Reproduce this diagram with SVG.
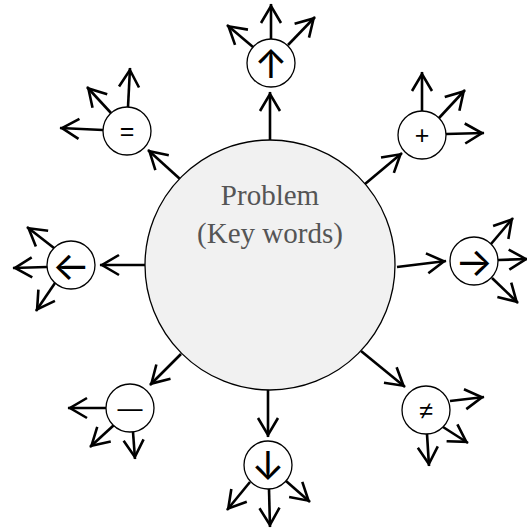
<svg xmlns="http://www.w3.org/2000/svg" width="527" height="529" viewBox="0 0 527 529">
<style>
.c{fill:#fff;stroke:#000;stroke-width:1.3}
.m{fill:#f1f1f1;stroke:#000;stroke-width:1.3}
.a{stroke:#000;stroke-width:2.6;fill:none;marker-end:url(#ah)}
.s{font-family:Inter,"DejaVu Sans",sans-serif;font-size:40px;font-weight:400;text-anchor:middle;fill:#000}
.o{font-family:"Liberation Sans",sans-serif;font-size:25px;text-anchor:middle;fill:#000}
.t{font-family:"Liberation Serif","Times New Roman",serif;font-size:29px;text-anchor:middle;fill:#555}
</style>
<defs>
<marker id="ah" markerUnits="userSpaceOnUse" markerWidth="40" markerHeight="40" viewBox="-20 -20 40 40" refX="0" refY="0" orient="auto" overflow="visible">
<path d="M-19,-10 L-2,0 L-19,10" fill="none" stroke="#000" stroke-width="2.6"/>
</marker>
</defs>
<g id="connectors">
<line class="a" x1="270" y1="140" x2="270" y2="92"/>
<line class="a" x1="365" y1="184" x2="402" y2="153"/>
<line class="a" x1="397" y1="267" x2="446" y2="261"/>
<line class="a" x1="361" y1="351" x2="405" y2="387"/>
<line class="a" x1="268" y1="390" x2="268" y2="437"/>
<line class="a" x1="181" y1="354" x2="150" y2="385"/>
<line class="a" x1="145" y1="265" x2="100" y2="265"/>
<line class="a" x1="180" y1="179" x2="148" y2="150"/>
<line class="a" x1="271" y1="39" x2="271" y2="4"/>
<line class="a" x1="253" y1="47" x2="227" y2="25"/>
<line class="a" x1="288" y1="45" x2="315" y2="17"/>
<line class="a" x1="422" y1="111" x2="422" y2="72"/>
<line class="a" x1="439" y1="118" x2="465" y2="90"/>
<line class="a" x1="446" y1="134" x2="484" y2="133"/>
<line class="a" x1="491" y1="244" x2="513" y2="218"/>
<line class="a" x1="498" y1="260" x2="528" y2="259"/>
<line class="a" x1="492" y1="278" x2="518" y2="303"/>
<line class="a" x1="450" y1="401" x2="484" y2="397"/>
<line class="a" x1="443" y1="427" x2="468" y2="443"/>
<line class="a" x1="427" y1="434" x2="429" y2="466"/>
<line class="a" x1="250" y1="482" x2="227" y2="510"/>
<line class="a" x1="269" y1="489" x2="270" y2="527"/>
<line class="a" x1="286" y1="481" x2="310" y2="502"/>
<line class="a" x1="106" y1="408" x2="68" y2="408"/>
<line class="a" x1="114" y1="425" x2="90" y2="447"/>
<line class="a" x1="133" y1="432" x2="135" y2="459"/>
<line class="a" x1="47" y1="267" x2="13" y2="268"/>
<line class="a" x1="54" y1="248" x2="27" y2="227"/>
<line class="a" x1="55" y1="283" x2="36" y2="311"/>
<line class="a" x1="103" y1="130" x2="60" y2="128"/>
<line class="a" x1="111" y1="113" x2="87" y2="87"/>
<line class="a" x1="128" y1="107" x2="130" y2="68"/>
</g>
<g id="problem">
<circle class="m" cx="270" cy="265" r="125"/>
<text class="t" x="270" y="205">Problem</text>
<text class="t" x="270" y="243">(Key words)</text>
</g>
<g id="up"><circle class="c" cx="271" cy="63" r="24"/><text class="s" x="271" y="78">↑</text></g>
<g id="plus"><circle class="c" cx="422" cy="135" r="24"/><text class="o" x="422" y="144">+</text></g>
<g id="right"><circle class="c" cx="474" cy="261" r="24"/><text class="s" x="474" y="276">→</text></g>
<g id="neq"><circle class="c" cx="426" cy="410" r="24"/><text class="o" x="426" y="419">≠</text></g>
<g id="down"><circle class="c" cx="268" cy="465" r="24"/><text class="s" x="268" y="480">↓</text></g>
<g id="minus"><circle class="c" cx="130" cy="408" r="24"/><text class="o" x="130" y="417">—</text></g>
<g id="left"><circle class="c" cx="71" cy="265" r="24"/><text class="s" x="71" y="280">←</text></g>
<g id="eq"><circle class="c" cx="127" cy="131" r="24"/><text class="o" x="127" y="140">=</text></g>
</svg>
